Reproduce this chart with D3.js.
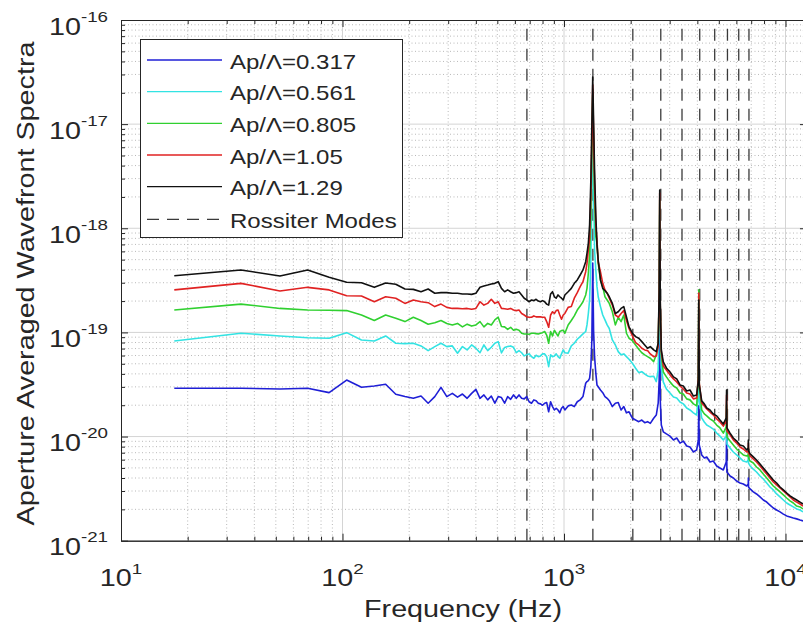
<!DOCTYPE html>
<html><head><meta charset="utf-8">
<script src="https://cdn.jsdelivr.net/npm/d3@7/dist/d3.min.js"></script>
<style>
body{margin:0;background:#fff;}
text{font-family:"Liberation Sans",Arial,Helvetica,sans-serif;fill:#262626;}
</style></head><body>
<svg id="c" width="803" height="634"></svg>
<script>
// ---------------- data ----------------
const freq = [
17.4,34.8,52.2,69.6,87,104.4,121.8,139.2,156.6,174,
191.4,208.8,226.2,243.6,261,278.4,295.8,313.2,330.6,348,
365.4,382.8,400.2,417.6,435,452.4,469.8,487.2,504.6,522,
539.4,556.8,574.2,591.6,609,626.4,643.8,661.2,678.6,696,
713.4,730.8,748.2,765.6,783,800.4,817.8,835.2,852.6,870,
887.4,904.8,922.2,939.6,957,974.4,991.8,1009,1044,1079,
1113,1148,1183,1218,1253,1270,1288,1305,1322,1336,
1348,1360,1374,1392,1409,1427,1461,1496,1531,1566,
1601,1653,1705,1757,1810,1862,1914,1966,2036,2105,
2175,2245,2314,2384,2453,2540,2610,2662,2690,2705,
2720,2750,2807,2900,3010,3120,3228,3340,3456,3580,
3705,3840,3972,4040,4060,4080,4185,4300,4410,4560,
4721,4890,5061,5240,5400,5420,5440,5620,5813,6020,
6231,6450,6680,6790,6800,6810,6920,7155,7400,7671,
7940,8224,8510,8809,9120,9445,9780,10125,10480,10845,
11230,11630,12000];

const ap0317 = [
2.91e-20,2.91e-20,2.86e-20,2.91e-20,2.64e-20,3.49e-20,2.97e-20,3.06e-20,3.18e-20,2.55e-20,
2.42e-20,2.33e-20,2.45e-20,2.09e-20,2.42e-20,2.97e-20,2.42e-20,2.60e-20,2.39e-20,2.56e-20,
2.33e-20,2.60e-20,2.84e-20,2.33e-20,2.51e-20,2.25e-20,2.45e-20,2.09e-20,2.42e-20,2.37e-20,
2.09e-20,2.42e-20,2.28e-20,2.51e-20,2.33e-20,2.51e-20,2.33e-20,2.30e-20,2.42e-20,2.16e-20,
2.09e-20,2.25e-20,2.21e-20,2.09e-20,2.06e-20,2.00e-20,2.09e-20,2.12e-20,1.73e-20,2.16e-20,
1.94e-20,1.80e-20,1.87e-20,1.80e-20,1.69e-20,1.87e-20,1.94e-20,1.80e-20,1.97e-20,2.01e-20,
1.94e-20,2.16e-20,2.25e-20,2.42e-20,3.25e-20,3.37e-20,3.44e-20,3.63e-20,4.69e-20,8.47e-20,
4.64e-19,1.05e-19,5.85e-20,4.06e-20,3.13e-20,3.01e-20,2.80e-20,2.64e-20,2.42e-20,2.33e-20,
2.21e-20,1.94e-20,2.09e-20,2.12e-20,1.80e-20,1.94e-20,1.69e-20,1.73e-20,1.50e-20,1.44e-20,
1.39e-20,1.44e-20,1.36e-20,1.39e-20,1.34e-20,1.50e-20,1.61e-20,2.09e-20,3.49e-20,2.56e-19,
2.25e-20,1.29e-20,1.11e-20,1.06e-20,1.01e-20,9.28e-21,9.69e-21,8.66e-21,9.05e-21,8.12e-21,
7.94e-21,7.11e-21,7.44e-21,9.28e-21,1.97e-20,8.30e-21,6.66e-21,6.23e-21,6.37e-21,5.70e-21,
5.82e-21,5.22e-21,4.99e-21,4.78e-21,5.70e-21,1.01e-20,4.57e-21,4.18e-21,4.00e-21,3.74e-21,
3.58e-21,3.50e-21,3.35e-21,3.50e-21,4.00e-21,3.28e-21,3.14e-21,2.94e-21,2.81e-21,2.63e-21,
2.46e-21,2.35e-21,2.20e-21,2.06e-21,1.97e-21,1.89e-21,1.80e-21,1.73e-21,1.69e-21,1.65e-21,
1.62e-21,1.58e-21,1.55e-21];

const ap0561 = [
8.28e-20,9.82e-20,9.25e-20,8.89e-20,8.79e-20,9.95e-20,8.47e-20,8.28e-20,9.25e-20,7.87e-20,
7.80e-20,7.87e-20,7.42e-20,6.69e-20,7.31e-20,7.87e-20,7.31e-20,7.42e-20,6.32e-20,7.31e-20,
6.79e-20,7.58e-20,7.05e-20,6.38e-20,7.58e-20,6.69e-20,7.20e-20,7.87e-20,8.16e-20,6.36e-20,
7.18e-20,7.31e-20,7.42e-20,7.20e-20,6.38e-20,6.69e-20,6.38e-20,5.95e-20,6.12e-20,6.22e-20,
5.85e-20,5.65e-20,6.04e-20,5.85e-20,5.95e-20,6.22e-20,6.22e-20,5.85e-20,4.69e-20,6.09e-20,
5.85e-20,5.95e-20,6.22e-20,5.85e-20,5.65e-20,6.22e-20,6.79e-20,6.38e-20,6.32e-20,7.42e-20,
7.87e-20,8.60e-20,9.11e-20,9.67e-20,1.02e-19,1.18e-19,1.52e-19,2.05e-19,4.96e-19,2.33e-18,
8.79e-18,2.60e-18,6.19e-19,3.98e-19,2.75e-19,2.20e-19,1.77e-19,1.47e-19,1.32e-19,1.18e-19,
1.09e-19,8.47e-20,7.58e-20,6.54e-20,6.09e-20,6.22e-20,5.85e-20,5.53e-20,5.06e-20,4.53e-20,
4.11e-20,4.20e-20,3.99e-20,3.82e-20,3.76e-20,3.80e-20,3.37e-20,4.36e-20,1.32e-19,1.34e-18,
1.05e-19,4.56e-20,3.35e-20,2.86e-20,2.62e-20,2.40e-20,2.35e-20,2.15e-20,2.06e-20,1.88e-20,
1.80e-20,1.69e-20,1.61e-20,2.51e-20,1.64e-19,2.25e-20,1.51e-20,1.38e-20,1.29e-20,1.24e-20,
1.18e-20,1.08e-20,1.01e-20,9.28e-21,1.01e-20,1.61e-20,8.49e-21,7.77e-21,7.11e-21,6.66e-21,
6.23e-21,5.82e-21,5.70e-21,5.96e-21,6.66e-21,5.57e-21,5.22e-21,4.87e-21,4.57e-21,4.18e-21,
3.91e-21,3.58e-21,3.28e-21,3.07e-21,2.81e-21,2.63e-21,2.46e-21,2.30e-21,2.20e-21,2.11e-21,
2.02e-21,1.97e-21,1.89e-21];

const ap0805 = [
1.64e-19,1.87e-19,1.70e-19,1.64e-19,1.63e-19,1.62e-19,1.47e-19,1.30e-19,1.47e-19,1.37e-19,
1.27e-19,1.40e-19,1.30e-19,1.20e-19,1.24e-19,1.30e-19,1.22e-19,1.18e-19,1.22e-19,1.13e-19,
1.20e-19,1.15e-19,1.18e-19,1.27e-19,1.13e-19,1.22e-19,1.18e-19,1.32e-19,1.40e-19,1.14e-19,
1.13e-19,1.07e-19,1.12e-19,1.05e-19,1.07e-19,1.05e-19,9.82e-20,9.67e-20,9.67e-20,9.60e-20,
9.82e-20,9.82e-20,9.73e-20,9.67e-20,9.82e-20,9.95e-20,1.02e-19,9.44e-20,7.87e-20,1.02e-19,
9.25e-20,1.05e-19,9.82e-20,9.25e-20,1.02e-19,1.04e-19,1.05e-19,9.82e-20,1.18e-19,1.30e-19,
1.44e-19,1.64e-19,1.79e-19,1.97e-19,2.29e-19,2.65e-19,3.70e-19,5.54e-19,1.34e-18,5.65e-18,
1.90e-17,6.32e-18,1.87e-18,8.30e-19,7.18e-19,4.61e-19,3.19e-19,2.75e-19,2.20e-19,2.05e-19,
1.90e-19,1.58e-19,1.18e-19,1.40e-19,1.27e-19,1.47e-19,9.82e-20,8.79e-20,8.33e-20,7.58e-20,
6.89e-20,6.38e-20,6.09e-20,5.85e-20,5.65e-20,5.25e-20,6.09e-20,7.87e-20,2.05e-19,1.87e-18,
1.64e-19,5.95e-20,4.17e-20,3.74e-20,3.35e-20,3.06e-20,2.93e-20,2.62e-20,2.56e-20,2.30e-20,
2.25e-20,2.06e-20,1.97e-20,3.91e-20,2.56e-19,3.13e-20,1.80e-20,1.65e-20,1.58e-20,1.48e-20,
1.41e-20,1.29e-20,1.21e-20,1.08e-20,1.24e-20,2.01e-20,9.90e-21,9.05e-21,8.30e-21,7.60e-21,
7.11e-21,6.66e-21,6.51e-21,6.66e-21,7.77e-21,6.23e-21,5.82e-21,5.57e-21,5.10e-21,4.78e-21,
4.37e-21,4.00e-21,3.66e-21,3.35e-21,3.14e-21,2.94e-21,2.75e-21,2.57e-21,2.41e-21,2.30e-21,
2.15e-21,2.11e-21,2.02e-21];

const ap105 = [
2.56e-19,2.96e-19,2.50e-19,2.71e-19,2.56e-19,2.25e-19,2.24e-19,1.97e-19,2.20e-19,2.13e-19,
1.90e-19,2.05e-19,1.97e-19,1.93e-19,1.77e-19,1.87e-19,1.74e-19,1.70e-19,1.70e-19,1.69e-19,
1.70e-19,1.67e-19,1.70e-19,1.97e-19,1.83e-19,1.90e-19,2.08e-19,1.90e-19,1.97e-19,1.70e-19,
1.69e-19,1.67e-19,1.70e-19,1.64e-19,1.62e-19,1.64e-19,1.52e-19,1.47e-19,1.41e-19,1.40e-19,
1.40e-19,1.44e-19,1.41e-19,1.41e-19,1.41e-19,1.40e-19,1.40e-19,1.27e-19,1.12e-19,1.47e-19,
1.58e-19,1.52e-19,1.62e-19,1.64e-19,1.47e-19,1.34e-19,1.47e-19,1.52e-19,1.74e-19,1.77e-19,
2.13e-19,2.41e-19,2.75e-19,3.07e-19,3.83e-19,4.61e-19,6.19e-19,8.02e-19,2.09e-18,7.05e-18,
2.38e-17,7.87e-18,2.60e-18,1.08e-18,7.70e-19,4.75e-19,3.81e-19,2.96e-19,2.56e-19,2.38e-19,
2.13e-19,1.83e-19,1.47e-19,1.40e-19,1.52e-19,1.62e-19,1.30e-19,1.09e-19,9.25e-20,7.98e-20,
7.58e-20,7.05e-20,6.79e-20,6.69e-20,6.22e-20,5.85e-20,5.95e-20,7.31e-20,2.29e-19,2.18e-18,
1.83e-19,6.50e-20,4.77e-20,4.36e-20,3.91e-20,3.58e-20,3.35e-20,3.06e-20,2.86e-20,2.62e-20,
2.56e-20,2.30e-20,2.35e-20,3.65e-20,2.39e-19,3.27e-20,2.10e-20,1.97e-20,1.84e-20,1.72e-20,
1.61e-20,1.48e-20,1.38e-20,1.26e-20,1.41e-20,2.51e-20,1.13e-20,1.04e-20,9.28e-21,8.66e-21,
7.94e-21,7.60e-21,7.11e-21,7.27e-21,8.66e-21,6.96e-21,6.51e-21,6.09e-21,5.70e-21,5.22e-21,
4.78e-21,4.37e-21,4.00e-21,3.66e-21,3.43e-21,3.21e-21,3.00e-21,2.81e-21,2.63e-21,2.46e-21,
2.35e-21,2.25e-21,2.15e-21];

const ap129 = [
3.50e-19,3.98e-19,3.48e-19,3.98e-19,3.38e-19,3.03e-19,3.00e-19,2.71e-19,2.98e-19,2.90e-19,
2.61e-19,2.59e-19,2.46e-19,2.61e-19,2.38e-19,2.41e-19,2.41e-19,2.38e-19,2.38e-19,2.34e-19,
2.34e-19,2.32e-19,2.38e-19,2.71e-19,2.79e-19,2.85e-19,2.92e-19,2.96e-19,3.07e-19,2.65e-19,
2.46e-19,2.56e-19,2.46e-19,2.38e-19,2.41e-19,2.46e-19,2.29e-19,2.13e-19,2.05e-19,1.97e-19,
2.05e-19,2.02e-19,2.08e-19,2.00e-19,1.97e-19,2.02e-19,1.97e-19,1.87e-19,1.83e-19,2.34e-19,
2.46e-19,2.20e-19,2.13e-19,2.29e-19,2.20e-19,2.13e-19,2.05e-19,2.29e-19,2.46e-19,2.65e-19,
2.96e-19,3.19e-19,3.56e-19,3.98e-19,4.78e-19,5.75e-19,7.18e-19,1.08e-18,2.91e-18,9.82e-18,
2.83e-17,1.09e-17,3.63e-18,1.34e-18,6.91e-19,4.96e-19,3.19e-19,2.65e-19,2.52e-19,2.38e-19,
2.20e-19,1.90e-19,1.52e-19,1.58e-19,1.70e-19,1.77e-19,1.41e-19,1.13e-19,9.82e-20,9.11e-20,
8.79e-20,8.16e-20,7.58e-20,7.05e-20,7.31e-20,6.79e-20,6.54e-20,7.87e-20,2.56e-19,2.33e-18,
2.05e-19,6.79e-20,5.21e-20,4.56e-20,4.17e-20,3.74e-20,3.58e-20,3.13e-20,3.06e-20,2.74e-20,
2.80e-20,2.45e-20,2.51e-20,3.49e-20,2.05e-19,3.13e-20,2.20e-20,2.06e-20,1.88e-20,1.80e-20,
1.65e-20,1.58e-20,1.44e-20,1.32e-20,1.51e-20,2.80e-20,1.21e-20,1.08e-20,9.69e-21,9.05e-21,
8.30e-21,8.12e-21,7.44e-21,7.77e-21,9.28e-21,7.27e-21,6.81e-21,6.37e-21,5.96e-21,5.46e-21,
4.99e-21,4.57e-21,4.18e-21,3.83e-21,3.58e-21,3.28e-21,3.07e-21,2.87e-21,2.69e-21,2.57e-21,
2.46e-21,2.35e-21,2.25e-21];

const seriesLabels = ["Ap/\u039B=0.317","Ap/\u039B=0.561","Ap/\u039B=0.805","Ap/\u039B=1.05","Ap/\u039B=1.29"];
const seriesColors = ["#1f1fd6","#33e3e3","#30d030","#e02222","#111111"];
const rossiterModes = [680,1350,2045,2735,3410,4100,4790,5470,6150,6840];
const rossiterLabel = "Rossiter Modes";
const xTickExps = [1,2,3,4];
const yTickExps = [-21,-20,-19,-18,-17,-16];
const xLabel = "Frequency (Hz)";
const yLabel = "Aperture Averaged Wavefront Spectra";

// ---------------- layout ----------------
const svg = d3.select("#c");
const L = 121, T = 20, B = 540.7;
const x = d3.scaleLog().domain([10, 12500]).range([L, L + 221.5*Math.log10(1250)]);
const y = d3.scaleLog().domain([1e-21, 1e-16]).range([B, T]);
const R = x.range()[1];

svg.append("clipPath").attr("id","plot").append("rect")
  .attr("x",L).attr("y",T).attr("width",R-L).attr("height",B-T);

const xMaj = xTickExps.map(e=>Math.pow(10,e));
const yMaj = yTickExps.map(e=>Math.pow(10,e));
const xMin = [], yMin = [];
xTickExps.forEach(e=>{ for(let k=2;k<=9;k++){ const v=k*Math.pow(10,e); if(v<x.domain()[1]) xMin.push(v);} });
yTickExps.slice(0,-1).forEach(e=>{ for(let k=2;k<=9;k++) yMin.push(k*Math.pow(10,e)); });

// grid
const grid = svg.append("g").attr("clip-path","url(#plot)");
grid.selectAll(".gxm").data(xMin).join("line")
  .attr("x1",d=>x(d)).attr("x2",d=>x(d)).attr("y1",T).attr("y2",B)
  .attr("stroke","#b9b9b9").attr("stroke-width",1).attr("stroke-dasharray","1,2.5");
grid.selectAll(".gym").data(yMin).join("line")
  .attr("y1",d=>y(d)).attr("y2",d=>y(d)).attr("x1",L).attr("x2",R)
  .attr("stroke","#b9b9b9").attr("stroke-width",1).attr("stroke-dasharray","1,2.5");
grid.selectAll(".gxM").data(xMaj.slice(1)).join("line")
  .attr("x1",d=>x(d)).attr("x2",d=>x(d)).attr("y1",T).attr("y2",B)
  .attr("stroke","#d4d4d4").attr("stroke-width",1);
grid.selectAll(".gyM").data(yMaj.slice(1,-1)).join("line")
  .attr("y1",d=>y(d)).attr("y2",d=>y(d)).attr("x1",L).attr("x2",R)
  .attr("stroke","#d4d4d4").attr("stroke-width",1);

// Rossiter mode lines
const ross = svg.append("g").attr("clip-path","url(#plot)");
ross.selectAll("line").data(rossiterModes).join("line")
  .attr("x1",d=>x(d)).attr("x2",d=>x(d)).attr("y1",B).attr("y2",T)
  .attr("stroke","#3a3a3a").attr("stroke-width",1.3).attr("stroke-dasharray","12,8");

// series
const seriesValues = [ap0317, ap0561, ap0805, ap105, ap129];
const line = d3.line().x(d=>x(d[0])).y(d=>y(d[1]));
const data = svg.append("g").attr("clip-path","url(#plot)");
seriesValues.forEach((vals,i)=>{
  data.append("path").datum(freq.map((f,j)=>[f, vals[j]]))
    .attr("d",line).attr("fill","none")
    .attr("stroke",seriesColors[i]).attr("stroke-width",1.6)
    .attr("stroke-linejoin","round");
});

// axes (ticks inward)
function ax(gen, tr){ return svg.append("g").attr("transform",tr).call(gen); }
const styleAxis = g => { g.select(".domain").attr("stroke","#262626"); g.selectAll(".tick line").attr("stroke","#262626"); g.selectAll("text").remove(); };
ax(d3.axisBottom(x).tickValues(xMaj).tickSize(-7).tickSizeOuter(0).tickFormat(""), `translate(0,${B})`).call(styleAxis);
ax(d3.axisBottom(x).tickValues(xMin).tickSize(-4).tickSizeOuter(0).tickFormat(""), `translate(0,${B})`).call(styleAxis);
ax(d3.axisTop(x).tickValues(xMaj).tickSize(-7).tickSizeOuter(0).tickFormat(""), `translate(0,${T})`).call(styleAxis);
ax(d3.axisTop(x).tickValues(xMin).tickSize(-4).tickSizeOuter(0).tickFormat(""), `translate(0,${T})`).call(styleAxis);
ax(d3.axisLeft(y).tickValues(yMaj).tickSize(-7).tickSizeOuter(0).tickFormat(""), `translate(${L},0)`).call(styleAxis);
ax(d3.axisLeft(y).tickValues(yMin).tickSize(-4).tickSizeOuter(0).tickFormat(""), `translate(${L},0)`).call(styleAxis);
ax(d3.axisRight(y).tickValues(yMaj).tickSize(-7).tickSizeOuter(0).tickFormat(""), `translate(${R},0)`).call(styleAxis);
ax(d3.axisRight(y).tickValues(yMin).tickSize(-4).tickSizeOuter(0).tickFormat(""), `translate(${R},0)`).call(styleAxis);

// tick labels
const SX = 1.25;
svg.selectAll(".xtl").data(xTickExps).join("text")
  .attr("transform",e=>`translate(${x(Math.pow(10,e))},586) scale(${SX},1)`)
  .attr("text-anchor","middle").style("font-size","23px")
  .each(function(e){
    const t=d3.select(this);
    t.append("tspan").text("10");
    t.append("tspan").attr("dy",-12).style("font-size","15px").text(String(e));
  });
svg.selectAll(".ytl").data(yTickExps).join("text")
  .attr("transform",e=>`translate(108,${y(Math.pow(10,e))+14.5}) scale(${SX},1)`)
  .attr("text-anchor","end").style("font-size","23px")
  .each(function(e){
    const t=d3.select(this);
    t.append("tspan").text("10");
    t.append("tspan").attr("dy",-13).style("font-size","15px").text(String(e));
  });

// axis labels
svg.append("text").attr("transform",`translate(${(L+805)/2},617) scale(1.25,1)`)
  .attr("text-anchor","middle").style("font-size","23px").text(xLabel);
svg.append("text").attr("transform",`translate(34,${(45+522)/2}) rotate(-90) scale(1.25,1)`)
  .attr("text-anchor","middle").style("font-size","23px").text(yLabel);

// legend
const lg = svg.append("g");
lg.append("rect").attr("x",140.5).attr("y",39.5).attr("width",262).attr("height",198)
  .attr("fill","#fff").attr("stroke","#262626").attr("stroke-width",1);
const rowsY = [60,91.7,123.3,155,186.7,219.3];
const items = seriesLabels.map((s,i)=>({label:s,color:seriesColors[i],dash:null}))
  .concat([{label:rossiterLabel,color:"#3a3a3a",dash:"12,8"}]);
items.forEach((it,i)=>{
  lg.append("line").attr("x1",147).attr("x2",222).attr("y1",rowsY[i]).attr("y2",rowsY[i])
    .attr("stroke",it.color).attr("stroke-width",1.3).attr("stroke-dasharray",it.dash);
  lg.append("text").attr("transform",`translate(230,${rowsY[i]+8.5}) scale(1.2,1)`)
    .style("font-size","20px").text(it.label);
});
</script>
</body></html>
